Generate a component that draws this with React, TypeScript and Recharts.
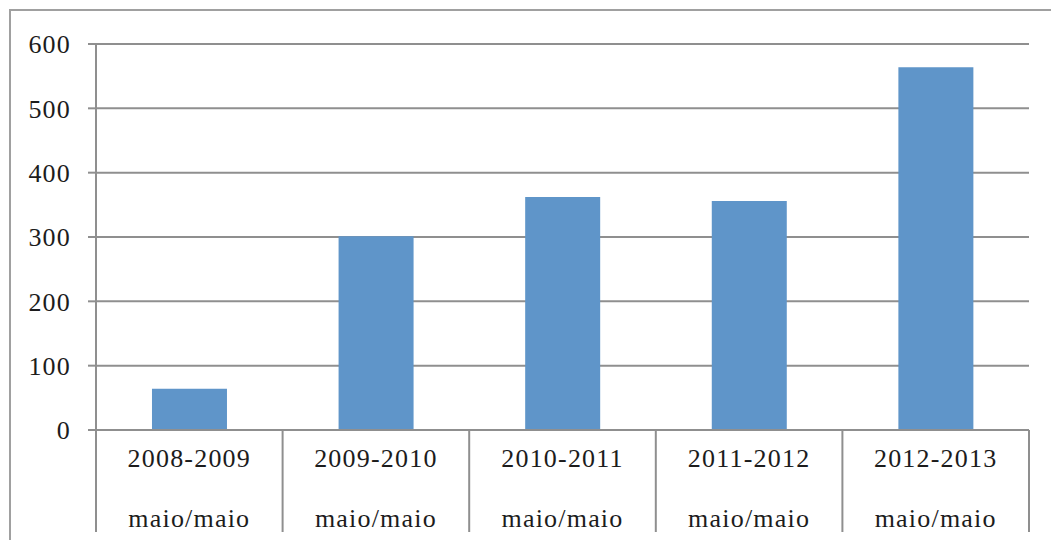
import { BarChart, Bar, XAxis, YAxis, CartesianGrid } from 'recharts';

const periods = ['2008-2009', '2009-2010', '2010-2011', '2011-2012', '2012-2013'];
const periodNote = ['maio/maio', 'maio/maio', 'maio/maio', 'maio/maio', 'maio/maio'];
const values = [64, 301, 362, 356, 564];
const yTicks = [0, 100, 200, 300, 400, 500, 600];

const chartData = periods.map((p, i) => ({ name: p, note: periodNote[i], value: values[i] }));

const FONT = '"Liberation Serif", serif';
const GRID = '#8f8f8f';
const TEXT = '#1c1c1c';

const CategoryTick = (props: any) => {
  const { x, y, payload, index, width, visibleTicksCount } = props;
  const count = visibleTicksCount || periods.length;
  const band = width / count;
  const left = x - band / 2;
  const right = x + band / 2;
  const note = periodNote[index] ?? '';
  return (
    <g>
      <line x1={left} y1={y} x2={left} y2={y + 102} stroke={GRID} strokeWidth={2} />
      {index === count - 1 && (
        <line x1={right} y1={y} x2={right} y2={y + 102} stroke={GRID} strokeWidth={2} />
      )}
      <text x={x} y={y + 28} textAnchor="middle" dominantBaseline="central"
        fontFamily={FONT} fontSize={26} letterSpacing={1.2} fill={TEXT}>
        {payload.value}
      </text>
      <text x={x} y={y + 88} textAnchor="middle" dominantBaseline="central"
        fontFamily={FONT} fontSize={26} letterSpacing={1.2} fill={TEXT}>
        {note}
      </text>
    </g>
  );
};

export default function App() {
  return (
    <div style={{ position: 'absolute', left: 0, top: 0, width: 1051, height: 540, overflow: 'hidden', background: '#fff' }}>
      <div style={{ position: 'absolute', left: 9, top: 9, width: 1100, height: 600, border: '2px solid #a0a0a0', boxSizing: 'border-box' }} />
      <div style={{ position: 'absolute', left: 0, top: 0 }}>
        <BarChart
          width={1051}
          height={540}
          data={chartData}
          margin={{ top: 44, right: 22, left: 0, bottom: 0 }}
          barCategoryGap="30%"
        >
          <CartesianGrid vertical={false} stroke={GRID} strokeWidth={2} />
          <XAxis
            dataKey="name"
            height={110}
            interval={0}
            axisLine={{ stroke: GRID, strokeWidth: 2 }}
            tickLine={false}
            tickSize={0}
            tickMargin={0}
            tick={<CategoryTick />}
          />
          <YAxis
            width={96}
            domain={[0, 600]}
            ticks={yTicks}
            interval={0}
            axisLine={{ stroke: GRID, strokeWidth: 2 }}
            tickLine={{ stroke: GRID, strokeWidth: 2 }}
            tickSize={8}
            tickMargin={17}
            tick={{ fontFamily: FONT, fontSize: 26, letterSpacing: 1.2, fill: TEXT }}
          />
          <Bar dataKey="value" fill="#5f95c9" isAnimationActive={false} />
        </BarChart>
      </div>
    </div>
  );
}
